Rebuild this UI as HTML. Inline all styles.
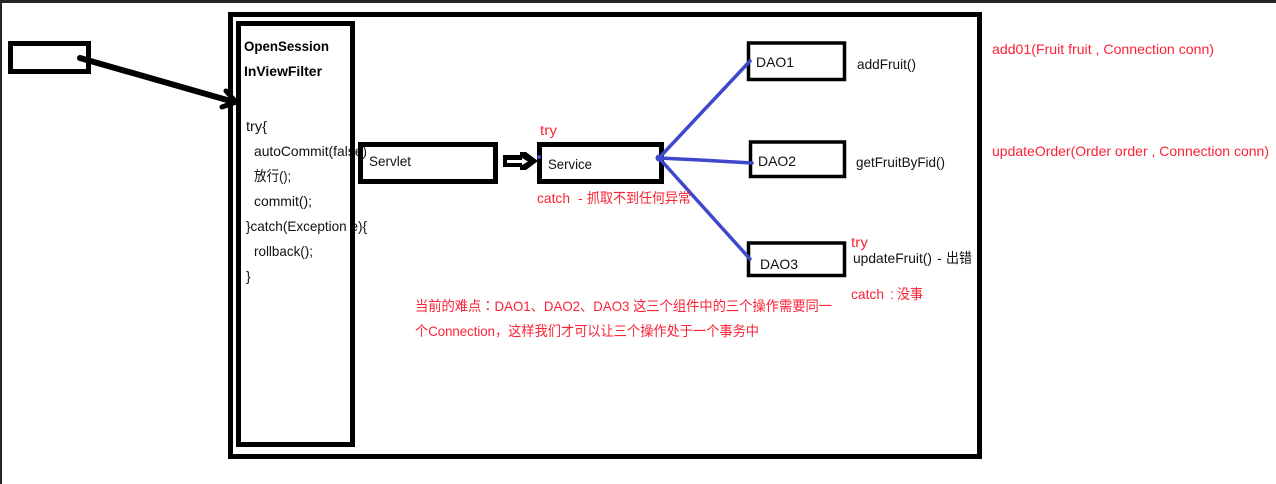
<!DOCTYPE html>
<html>
<head>
<meta charset="utf-8">
<style>
html,body{margin:0;padding:0;background:#fff;width:1276px;height:484px;overflow:hidden}
svg{display:block}
text{font-family:"Liberation Sans","Noto Sans CJK SC",sans-serif;font-size:14px;fill:#111}
.r{fill:#fb2236}
.b{font-weight:bold;fill:#000}
.box{fill:none;stroke:#000}
.c{font-family:"Noto Sans CJK TC",sans-serif}
</style>
</head>
<body>
<svg width="1276" height="484" viewBox="0 0 1276 484" xmlns="http://www.w3.org/2000/svg">
<rect width="1276" height="484" fill="#fff"/>
<rect width="1276" height="3" fill="#252526"/>
<rect width="2" height="484" fill="#252526"/>

<!-- filter text (under the box border) -->
<text class="b" x="244" y="51" textLength="85" lengthAdjust="spacingAndGlyphs">OpenSession</text>
<text class="b" x="244" y="76" textLength="78" lengthAdjust="spacingAndGlyphs">InViewFilter</text>
<text x="246" y="131" textLength="21" lengthAdjust="spacingAndGlyphs">try{</text>
<text x="254" y="156" textLength="113" lengthAdjust="spacingAndGlyphs">autoCommit(false)</text>
<text x="254" y="181" textLength="37" lengthAdjust="spacingAndGlyphs">放行();</text>
<text x="254" y="206" textLength="58" lengthAdjust="spacingAndGlyphs">commit();</text>
<text x="246" y="231" textLength="121" lengthAdjust="spacingAndGlyphs">}catch(Exception e){</text>
<text x="254" y="256" textLength="59" lengthAdjust="spacingAndGlyphs">rollback();</text>
<text x="246" y="281">}</text>

<!-- boxes -->
<rect class="box" x="230.5" y="14.5" width="749" height="442" stroke-width="5"/>
<rect class="box" x="238.5" y="23.5" width="114" height="421" stroke-width="5"/>
<rect class="box" x="10.5" y="43.5" width="78" height="28" stroke-width="5"/>
<rect class="box" x="360.5" y="144.5" width="135" height="37" stroke-width="5"/>
<rect class="box" x="539.5" y="144.5" width="122" height="37" stroke-width="5"/>
<rect class="box" x="748.5" y="43" width="96" height="36.5" stroke-width="3.5"/>
<rect class="box" x="750.5" y="142" width="94" height="34.5" stroke-width="3.5"/>
<rect class="box" x="748.5" y="243" width="96" height="32.5" stroke-width="3.5"/>

<!-- black arrow -->
<line x1="80" y1="58" x2="234" y2="102" stroke="#000" stroke-width="6" stroke-linecap="round"/>
<polyline points="226,91 236,102 222,107" fill="none" stroke="#000" stroke-width="5" stroke-linecap="round" stroke-linejoin="round"/>

<!-- double arrow -->
<polygon points="503,155 520,155 520,152 526,152 538,161 526,170 520,170 520,167 503,167" fill="#000"/>
<polygon points="507,160 522,160 522,158 528,161.5 522,165 522,163 507,163" fill="#fff"/>

<!-- blue connectors -->
<g stroke="#3f48cc" stroke-width="3.5" fill="none" stroke-linecap="round">
<line x1="659" y1="158" x2="750" y2="61"/>
<polyline points="659,158 700,160 752,163"/>
<line x1="659" y1="158" x2="750" y2="259"/>
</g>
<circle cx="659" cy="158" r="3.5" fill="#3f48cc"/>
<circle cx="539" cy="157" r="2" fill="#3f48cc"/>

<!-- labels -->
<text x="369" y="166" textLength="42" lengthAdjust="spacingAndGlyphs">Servlet</text>
<text x="548" y="169" textLength="44" lengthAdjust="spacingAndGlyphs">Service</text>
<text class="r" x="540" y="135" textLength="17" lengthAdjust="spacingAndGlyphs">try</text>
<text class="r" x="537" y="203" textLength="33" lengthAdjust="spacingAndGlyphs">catch</text>
<text class="r" x="578" y="203">-</text>
<text class="r" x="587" y="203" textLength="104" lengthAdjust="spacingAndGlyphs">抓取不到任何异常</text>
<text x="756" y="67" textLength="38" lengthAdjust="spacingAndGlyphs">DAO1</text>
<text x="857" y="69" textLength="59" lengthAdjust="spacingAndGlyphs">addFruit()</text>
<text x="758" y="166" textLength="38" lengthAdjust="spacingAndGlyphs">DAO2</text>
<text x="856" y="167" textLength="89" lengthAdjust="spacingAndGlyphs">getFruitByFid()</text>
<text x="760" y="269" textLength="38" lengthAdjust="spacingAndGlyphs">DAO3</text>
<text class="r" x="851" y="247" textLength="17" lengthAdjust="spacingAndGlyphs">try</text>
<text x="853" y="263" textLength="79" lengthAdjust="spacingAndGlyphs">updateFruit()</text>
<text x="937" y="263">-</text>
<text x="946" y="263" textLength="26" lengthAdjust="spacingAndGlyphs">出错</text>
<text class="r" x="851" y="299" textLength="33" lengthAdjust="spacingAndGlyphs">catch</text>
<text class="r" x="890" y="299">:</text>
<text class="r" x="897" y="299" textLength="26" lengthAdjust="spacingAndGlyphs">没事</text>
<text class="r" x="415" y="311" textLength="417" lengthAdjust="spacingAndGlyphs">当前的难点<tspan class="c">：</tspan>DAO1、DAO2、DAO3 这三个组件中的三个操作需要同一</text>
<text class="r" x="415" y="336" textLength="344" lengthAdjust="spacingAndGlyphs">个Connection，这样我们才可以让三个操作处于一个事务中</text>
<text class="r" x="992" y="54" textLength="222" lengthAdjust="spacingAndGlyphs">add01(Fruit fruit , Connection conn)</text>
<text class="r" x="992" y="156" textLength="277" lengthAdjust="spacingAndGlyphs">updateOrder(Order order , Connection conn)</text>
</svg>
</body>
</html>
